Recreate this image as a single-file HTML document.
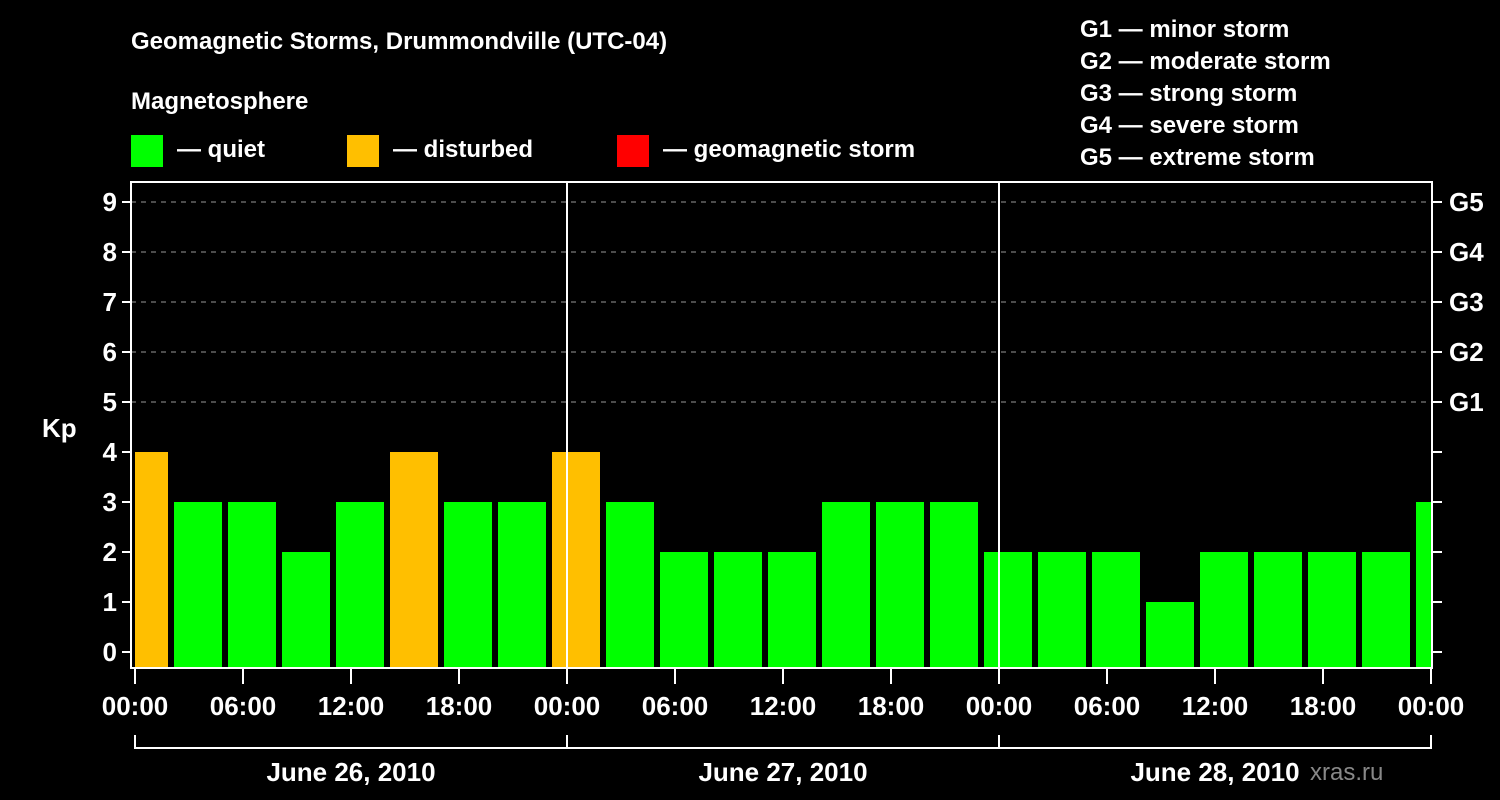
<!DOCTYPE html>
<html><head><meta charset="utf-8"><style>
html,body{margin:0;padding:0;background:#000;}
svg{display:block;font-family:"Liberation Sans",sans-serif;font-weight:bold;}
</style></head><body>
<svg id="chart" width="1500" height="800" viewBox="0 0 1500 800" xmlns="http://www.w3.org/2000/svg">
<rect width="1500" height="800" fill="#000"/>
<text x="131" y="49" fill="#fff" font-size="24">Geomagnetic Storms, Drummondville (UTC-04)</text>
<text x="131" y="109" fill="#fff" font-size="24">Magnetosphere</text>
<g><rect x="131" y="135" width="32" height="32" fill="#00ff00"/><text x="177" y="157" fill="#fff" font-size="24">— quiet</text></g>
<g><rect x="347" y="135" width="32" height="32" fill="#ffbf00"/><text x="393" y="157" fill="#fff" font-size="24">— disturbed</text></g>
<g><rect x="617" y="135" width="32" height="32" fill="#ff0000"/><text x="663" y="157" fill="#fff" font-size="24">— geomagnetic storm</text></g>
<g fill="#fff" font-size="24">
<text x="1080" y="37">G1 — minor storm</text>
<text x="1080" y="69">G2 — moderate storm</text>
<text x="1080" y="101">G3 — strong storm</text>
<text x="1080" y="133">G4 — severe storm</text>
<text x="1080" y="165">G5 — extreme storm</text>
</g>
<text x="42" y="437" fill="#fff" font-size="26">Kp</text>
<text x="1310" y="780" fill="#888" font-size="24" font-weight="normal">xras.ru</text>
<g id="grid"></g><g id="bars"></g><g id="axes"></g>
</svg>
<script>
const kpValues=[4,3,3,2,3,4,3,3,4,3,2,2,2,3,3,3,2,2,2,1,2,2,2,2,3];
const yTicks=[0,1,2,3,4,5,6,7,8,9];
const gLabels=["G1","G2","G3","G4","G5"];
const gLevels=[5,6,7,8,9];
const xTickLabels=["00:00","06:00","12:00","18:00","00:00","06:00","12:00","18:00","00:00","06:00","12:00","18:00","00:00"];
const dayLabels=["June 26, 2010","June 27, 2010","June 28, 2010"];
const NS="http://www.w3.org/2000/svg";
const L=131,R=1432,T=182,B=668;
const x0=135,pxH=18;
function xs(h){return x0+h*pxH;}
function ys(v){return 652-50*v;}
function el(t,a,p){const e=document.createElementNS(NS,t);for(const k in a)e.setAttribute(k,a[k]);p.appendChild(e);return e;}
const grid=document.getElementById('grid'),bars=document.getElementById('bars'),axes=document.getElementById('axes');
yTicks.forEach(v=>{
 if(v>=5){const g=el('line',{x1:L,x2:R,y1:ys(v),y2:ys(v),stroke:'#999','stroke-width':1,'stroke-dasharray':'5,5'},grid);
 
 }
 const t=el('line',{x1:L-9,x2:L,y1:ys(v),y2:ys(v),stroke:'#fff','stroke-width':2},axes);
 
 
 const t2=el('line',{x1:R,x2:R+10,y1:ys(v),y2:ys(v),stroke:'#fff','stroke-width':2},axes);
 
 
 const lb=el('text',{x:L-14,y:ys(v)+9,fill:'#fff','font-size':26,'text-anchor':'end'},axes);
 lb.textContent=v;
 
 
});
gLabels.forEach((g,i)=>{
 const lb=el('text',{x:R+17,y:ys(gLevels[i])+9,fill:'#fff','font-size':26},axes);
 lb.textContent=g;
 
 
});
const clip=el('clipPath',{id:'pc'},bars);el('rect',{x:L+4,y:T,width:R-L-4,height:B-T},clip);
const bg=el('g',{'clip-path':'url(#pc)'},bars);
kpValues.forEach((v,k)=>{
 const xa=xs(3*k-1)+3;
 const b=el('rect',{x:xa,y:ys(v),width:48,height:B-ys(v),fill:v>=5?'#ff0000':(v>=4?'#ffbf00':'#00ff00')},bg);
 
 
});
[1,2].forEach(d=>{const l=el('line',{x1:xs(24*d),x2:xs(24*d),y1:T,y2:B,stroke:'#fff','stroke-width':2},axes);
 
 });
const f=el('rect',{x:L,y:T,width:R-L,height:B-T,fill:'none',stroke:'#fff','stroke-width':2},axes);


xTickLabels.forEach((s,i)=>{
 const x=xs(6*i);
 const t=el('line',{x1:x,x2:x,y1:B,y2:B+16,stroke:'#fff','stroke-width':2},axes);
 
 
 const lb=el('text',{x:x,y:715,fill:'#fff','font-size':26,'text-anchor':'middle'},axes);
 lb.textContent=s;
 
 
});
const br=el('path',{d:`M${xs(0)},735V748H${xs(72)}V735`,fill:'none',stroke:'#fff','stroke-width':2},axes);


dayLabels.forEach((s,d)=>{
 const t=el('line',{x1:xs(24*d),x2:xs(24*d),y1:735,y2:748,stroke:'#fff','stroke-width':2},axes);
 
 
 const lb=el('text',{x:xs(24*d+12),y:781,fill:'#fff','font-size':26,'text-anchor':'middle'},axes);
 lb.textContent=s;
 
 
});
</script>
</body></html>
